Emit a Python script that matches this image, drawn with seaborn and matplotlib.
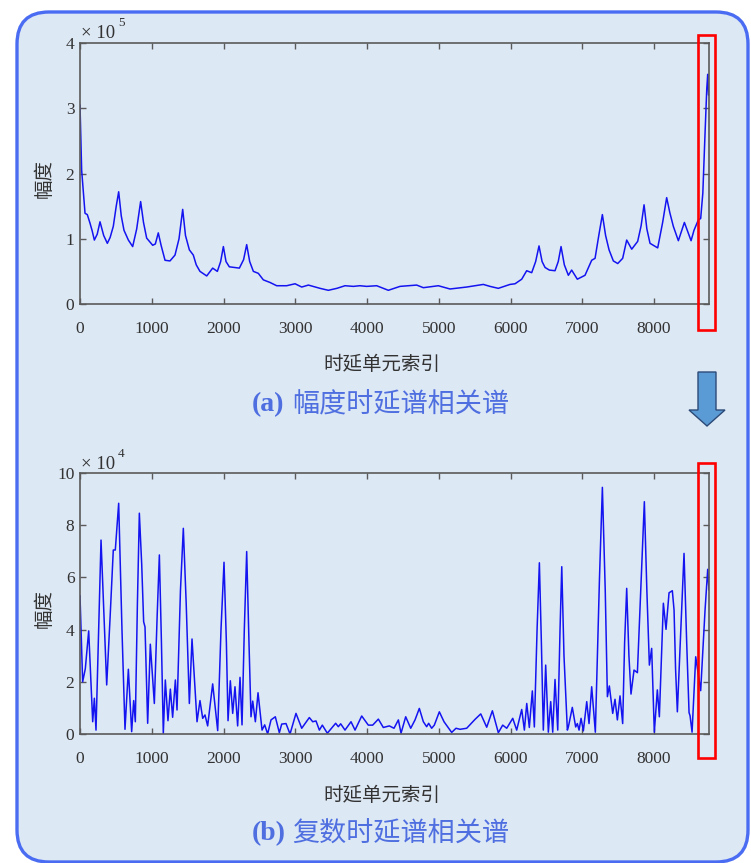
import numpy as np
import pandas as pd
import seaborn as sns
import matplotlib
matplotlib.use("Agg")
import matplotlib.pyplot as plt
from matplotlib.patches import FancyBboxPatch, Rectangle, Polygon

# ---------------- data ----------------
# (a) amplitude delay-spectrum correlation, values in units of 1e5
delay_a = [0, 23, 70, 102, 139, 170, 200, 240, 279, 330, 381, 420, 464, 505, 539, 575, 613,
           674, 734, 790, 845, 885, 929, 1013, 1050, 1091, 1130, 1185, 1254, 1324, 1380, 1431,
           1470, 1524, 1579, 1620, 1672, 1766, 1849, 1914, 1960, 1998, 2035, 2081, 2221, 2280,
           2323, 2365, 2416, 2485, 2555, 2648, 2741, 2880, 2997, 3090, 3183, 3345, 3461, 3580,
           3693, 3809, 3900, 3995, 4135, 4297, 4460, 4692, 4785, 4994, 5157, 5389, 5621, 5714,
           5830, 5993, 6063, 6156, 6225, 6295, 6350, 6397, 6440, 6481, 6541, 6620, 6665, 6704,
           6750, 6806, 6852, 6931, 7038, 7131, 7178, 7230, 7280, 7325, 7373, 7433, 7494, 7563,
           7619, 7689, 7772, 7820, 7861, 7900, 7944, 8051, 8120, 8176, 8220, 8269, 8339, 8423,
           8516, 8557, 8618, 8650, 8680, 8711, 8735, 8748, 8760]
amp_a = [3.05, 2.05, 1.39, 1.37, 1.24, 1.12, 0.98, 1.07, 1.26, 1.05, 0.93, 1.02, 1.19, 1.50,
         1.72, 1.35, 1.13, 0.98, 0.88, 1.15, 1.57, 1.25, 1.01, 0.90, 0.92, 1.09, 0.90, 0.67,
         0.66, 0.75, 1.00, 1.45, 1.05, 0.83, 0.75, 0.60, 0.50, 0.43, 0.55, 0.50, 0.65, 0.88,
         0.65, 0.57, 0.55, 0.68, 0.91, 0.65, 0.50, 0.47, 0.37, 0.33, 0.28, 0.28, 0.31, 0.26,
         0.29, 0.24, 0.21, 0.24, 0.28, 0.27, 0.28, 0.27, 0.28, 0.21, 0.27, 0.29, 0.25, 0.28,
         0.23, 0.26, 0.30, 0.27, 0.24, 0.30, 0.31, 0.38, 0.51, 0.48, 0.65, 0.89, 0.65, 0.56,
         0.52, 0.51, 0.65, 0.88, 0.60, 0.44, 0.52, 0.38, 0.44, 0.67, 0.70, 1.05, 1.37, 1.05,
         0.83, 0.66, 0.62, 0.70, 0.98, 0.84, 0.96, 1.20, 1.52, 1.15, 0.93, 0.86, 1.25, 1.63,
         1.40, 1.19, 0.97, 1.25, 0.97, 1.13, 1.29, 1.31, 1.70, 2.62, 3.30, 3.52, 3.20]

# (b) complex delay-spectrum correlation, values in units of 1e4
delay_b = [0, 37, 74, 121, 177, 200, 223, 293, 372, 420, 464, 492, 539, 585, 627, 674, 720,
           748, 771, 800, 827, 860, 887, 906, 943, 980, 1036, 1075, 1106, 1135, 1161, 1189,
           1226, 1259, 1291, 1329, 1352, 1400, 1440, 1480, 1524, 1561, 1631, 1672, 1710, 1742,
           1779, 1849, 1919, 1965, 2007, 2040, 2063, 2095, 2128, 2160, 2197, 2230, 2258, 2290,
           2323, 2355, 2383, 2407, 2444, 2481, 2537, 2574, 2615, 2662, 2722, 2778, 2811, 2871,
           2927, 3010, 3090, 3196, 3243, 3289, 3336, 3377, 3447, 3484, 3563, 3600, 3633, 3693,
           3777, 3833, 3926, 4018, 4079, 4158, 4227, 4311, 4376, 4437, 4474, 4539, 4609, 4669,
           4729, 4785, 4831, 4859, 4901, 4938, 5008, 5073, 5180, 5240, 5296, 5389, 5505, 5585,
           5668, 5747, 5830, 5891, 5947, 6031, 6086, 6156, 6193, 6226, 6262, 6304, 6332, 6370,
           6402, 6430, 6457, 6490, 6527, 6560, 6588, 6620, 6658, 6690, 6714, 6745, 6792, 6806,
           6861, 6908, 6931, 6955, 6983, 7015, 7062, 7094, 7131, 7182, 7240, 7280, 7320, 7350,
           7377, 7424, 7456, 7489, 7526, 7563, 7590, 7619, 7650, 7679, 7721, 7768, 7830, 7865,
           7900, 7935, 7967, 8004, 8046, 8074, 8130, 8167, 8209, 8255, 8279, 8300, 8325, 8380,
           8418, 8455, 8488, 8502, 8530, 8581, 8650, 8711, 8748, 8766]
amp_b = [5.3, 2.0, 2.5, 3.95, 0.47, 1.37, 0.15, 7.43, 1.88, 4.5, 7.05, 7.05, 8.84, 4.0, 0.18,
         2.48, 0.09, 1.28, 0.47, 5.0, 8.46, 6.5, 4.30, 4.1, 0.41, 3.44, 1.17, 4.5, 6.86, 3.5,
         0.03, 2.07, 0.51, 1.72, 0.64, 2.07, 0.92, 5.5, 7.88, 5.0, 1.17, 3.64, 0.47, 1.28, 0.60,
         0.73, 0.31, 1.92, 0.13, 4.0, 6.58, 3.5, 0.51, 2.04, 0.79, 1.81, 0.31, 2.17, 0.35, 4.0,
         6.99, 3.5, 0.66, 1.26, 0.47, 1.58, 0.15, 0.35, 0.0, 0.54, 0.66, 0.05, 0.38, 0.40, 0.0,
         0.79, 0.22, 0.63, 0.47, 0.50, 0.15, 0.34, 0.03, 0.15, 0.41, 0.28, 0.39, 0.15, 0.47,
         0.15, 0.69, 0.34, 0.34, 0.57, 0.25, 0.31, 0.22, 0.54, 0.03, 0.66, 0.22, 0.54, 0.98,
         0.47, 0.28, 0.41, 0.22, 0.34, 0.85, 0.47, 0.06, 0.22, 0.18, 0.22, 0.56, 0.77, 0.26,
         0.89, 0.05, 0.34, 0.22, 0.60, 0.15, 0.94, 0.15, 1.17, 0.25, 1.65, 0.27, 4.0, 6.56, 3.5,
         0.15, 2.64, 0.07, 1.24, 0.07, 2.09, 0.15, 4.0, 6.41, 3.0, 0.15, 0.27, 1.02, 0.27, 0.40,
         0.15, 0.60, 0.12, 1.24, 0.40, 1.81, 0.07, 6.0, 9.45, 5.5, 1.43, 1.84, 0.79, 1.33, 0.54,
         1.46, 0.40, 3.5, 5.58, 3.0, 1.53, 2.45, 2.35, 6.5, 8.90, 5.5, 2.64, 3.28, 0.07, 1.69,
         0.66, 5.01, 4.01, 5.41, 5.49, 4.75, 2.5, 0.85, 4.5, 6.92, 3.5, 0.82, 0.70, 0.07, 2.96,
         1.66, 4.75, 6.31, 5.52]

x_ticks = [0, 1000, 2000, 3000, 4000, 5000, 6000, 7000, 8000]
y_ticks_a = [0, 1, 2, 3, 4]
y_ticks_b = [0, 2, 4, 6, 8, 10]
x_label = "时延单元索引"
y_label = "幅度"
caption_a = ("(a)", "幅度时延谱相关谱")
caption_b = ("(b)", "复数时延谱相关谱")

# ---------------- style ----------------
sns.set_style("ticks")
plt.rcParams["font.family"] = ["Liberation Serif", "Noto Sans CJK SC"]

W, H = 751, 863
fig = plt.figure(figsize=(W / 100, H / 100), dpi=100)
fig.patch.set_facecolor("white")

# pixel-coordinate background layer
bg = fig.add_axes([0, 0, 1, 1], zorder=0)
bg.set_xlim(0, W)
bg.set_ylim(H, 0)
bg.axis("off")
bg.add_patch(FancyBboxPatch((17, 12), 731, 850,
                            boxstyle="round,pad=0,rounding_size=32",
                            fc="#dde8f5", ec="#4a6cf2", lw=2.4))

line_col = "#1414f0"
spine_col = "#5a5a5a"
text_col = "#333333"


def make_panel(top_px, xs, ys, yticks, ymax):
    ax = fig.add_axes([80 / W, 1 - (top_px + 261) / H, 629 / W, 261 / H], zorder=2)
    ax.patch.set_alpha(0)
    df = pd.DataFrame({"delay": xs, "amp": ys})
    sns.lineplot(data=df, x="delay", y="amp", ax=ax, color=line_col, lw=1.1,
                 estimator=None, sort=False)
    ax.set_xlim(0, 8766)
    ax.set_ylim(0, ymax)
    ax.set_xticks(x_ticks)
    ax.set_yticks(yticks)
    ax.set_xlabel("")
    ax.set_ylabel("")
    ax.tick_params(direction="in", length=4.5, width=1.0, color=spine_col,
                   top=True, right=True, labelsize=12.5, labelcolor=text_col)
    ax.tick_params(axis="x", pad=12)
    ax.tick_params(axis="y", pad=4)
    for s in ax.spines.values():
        s.set_color(spine_col)
        s.set_linewidth(1.2)
    return ax


ax_a = make_panel(43, delay_a, amp_a, y_ticks_a, 4)
ax_b = make_panel(473, delay_b, amp_b, y_ticks_b, 10)

# overlay layer for annotations
ov = fig.add_axes([0, 0, 1, 1], zorder=5)
ov.set_xlim(0, W)
ov.set_ylim(H, 0)
ov.axis("off")
ov.patch.set_alpha(0)

# scale factors above each panel
ov.text(81, 38, "× 10", fontsize=13.5, color=text_col, ha="left", va="baseline")
ov.text(118, 26, "5", fontsize=9.5, color=text_col, ha="left", va="baseline")
ov.text(81, 469, "× 10", fontsize=13.5, color=text_col, ha="left", va="baseline")
ov.text(118, 457, "4", fontsize=9.5, color=text_col, ha="left", va="baseline")

# axis labels
cjk = ["Noto Sans CJK SC", "DejaVu Sans"]
for yc in (179, 608):
    ov.text(44, yc, y_label, fontsize=14, color=text_col, rotation=90,
            ha="center", va="center", family=cjk)
for yc in (364, 795):
    ov.text(382, yc, x_label, fontsize=14, color=text_col,
            ha="center", va="center", family=cjk)

# captions
cap_col = "#4f6fe0"
for yc, (tag, title) in ((405, caption_a), (834, caption_b)):
    ov.text(252, yc, tag, fontsize=20, fontweight="bold", color=cap_col,
            ha="left", va="center", family="Liberation Serif")
    ov.text(292, yc, title, fontsize=19.5, color=cap_col,
            ha="left", va="center", family=cjk)

# highlight boxes on the last delay bins
for y0 in (35, 463):
    ov.add_patch(Rectangle((698, y0), 17, 295, fill=False, ec="#ff0000", lw=1.9))

# down arrow between panels
arrow = [(698, 372), (716, 372), (716, 410), (725, 410), (707, 426),
         (689, 410), (698, 410)]
ov.add_patch(Polygon(arrow, closed=True, fc="#5b9bd5", ec="#2c4a78", lw=1.0))

fig.savefig("out.png", dpi=100, facecolor="white")
